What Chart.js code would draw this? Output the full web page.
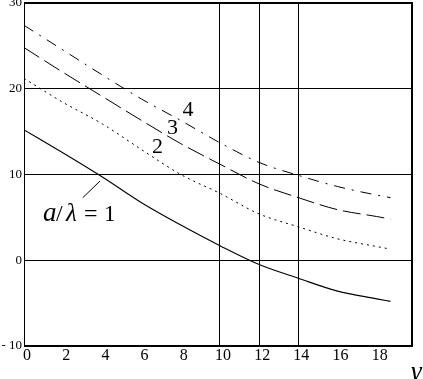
<!DOCTYPE html>
<html><head><meta charset="utf-8">
<script src="https://cdn.jsdelivr.net/npm/chart.js@4/dist/chart.umd.min.js"></script>
<style>
html,body{margin:0;padding:0;background:#fff;overflow:hidden;width:423px;height:379px}
#wrap{position:absolute;left:0;top:0;width:423px;height:379px}
.pre{position:absolute;left:0;top:0;font-family:'Liberation Serif';color:#fff;z-index:-1}
</style></head>
<body><span class="pre">0123 <i>aλγ</i></span><div id="wrap"><canvas id="c"></canvas></div>
<script>
// gamma values (x) and the four curves a/lambda = 1..4
const gamma = [0, 2, 4, 6, 8, 10, 12, 14, 16, 18, 18.7];
const ratio1 = [15.2, 12.5, 9.7, 6.7, 4.1, 1.7, -0.5, -2.1, -3.6, -4.5, -4.8];
const ratio2 = [21.2, 18.4, 15.9, 12.9, 10.0, 7.8, 5.4, 3.9, 2.5, 1.6, 1.3];
const ratio3 = [24.8, 21.9, 19.1, 16.3, 13.6, 11.2, 8.9, 7.3, 5.9, 5.1, 4.8];
const ratio4 = [27.4, 24.5, 21.6, 18.8, 16.3, 13.7, 11.4, 9.9, 8.6, 7.6, 7.3];
const xTicks = [0, 2, 4, 6, 8, 10, 12, 14, 16, 18];
const yTicks = [-10, 0, 10, 20, 30];
const xGridLines = [10, 12, 14];
const curveLabels = ['4', '3', '2'];

const serif = "'Liberation Serif', serif";
const pts = ys => gamma.map((g, i) => ({x: g, y: ys[i]}));

// annotation placement (data units)
const annot = {
  curveLabelPos: [[8.37, 16.78], [7.58, 14.69], [6.81, 12.47]],
  mainLabelPos: [0.97, 4.58],
  leader: [[3.0, 7.3], [3.88, 9.24]]
};

const decor = {
  id: 'decor',
  afterDraw(chart) {
    const {ctx, chartArea: a, scales: {x, y}} = chart;
    ctx.save();
    ctx.fillStyle = '#000';
    ctx.strokeStyle = '#000';
    ctx.fillRect(a.left, a.top - 1, a.right - a.left + 1, 2);
    ctx.fillRect(a.left, a.bottom - 1, a.right - a.left + 1, 2);
    ctx.fillRect(a.right - 1, a.top - 1, 2, a.bottom - a.top + 1);
    ctx.fillRect(Math.round(a.left), a.top - 1, 1, a.bottom - a.top + 1);
    ctx.font = '22px ' + serif;
    ctx.textAlign = 'center';
    ctx.textBaseline = 'alphabetic';
    curveLabels.forEach((t, i) => {
      const [gx, gy] = annot.curveLabelPos[i];
      ctx.fillText(t, x.getPixelForValue(gx), y.getPixelForValue(gy));
    });
    ctx.textAlign = 'left';
    const px = x.getPixelForValue(annot.mainLabelPos[0]);
    const py = y.getPixelForValue(annot.mainLabelPos[1]);
    const parts = [['a', 'italic 27px ', 0], ['/', '24px ', 13], ['λ', 'italic 25px ', 23], ['=', '24px ', 41], ['1', '23px ', 61]];
    parts.forEach(([t, f, dx]) => {
      ctx.font = f + serif;
      ctx.fillText(t, px + dx, py);
    });
    ctx.lineWidth = 1;
    ctx.beginPath();
    ctx.moveTo(x.getPixelForValue(annot.leader[0][0]), y.getPixelForValue(annot.leader[0][1]));
    ctx.lineTo(x.getPixelForValue(annot.leader[1][0]), y.getPixelForValue(annot.leader[1][1]));
    ctx.stroke();
    ctx.font = 'italic 27px ' + serif;
    ctx.textAlign = 'left';
    ctx.fillText('γ', a.right - 1, a.bottom + 34);
    ctx.restore();
  }
};

const ds = (label, ys, dash, w) => ({
  label, data: pts(ys), borderColor: '#000', borderWidth: w || 1,
  borderDash: dash, pointRadius: 0, fill: false,
  cubicInterpolationMode: 'monotone'
});

const chart = new Chart(document.getElementById('c'), {
  type: 'line',
  data: {
    datasets: [
      ds('a/λ = 1', ratio1, [], 1.1),
      ds('a/λ = 2', ratio2, [2, 4]),
      ds('a/λ = 3', ratio3, [18, 6]),
      ds('a/λ = 4', ratio4, [11, 7, 2, 7])
    ]
  },
  options: {
    responsive: true, maintainAspectRatio: false, animation: false,
    layout: {padding: {left: 0, right: 11, top: 3, bottom: 0}},
    plugins: {legend: {display: false}, tooltip: {enabled: false}},
    scales: {
      x: {
        type: 'linear', min: 0, max: 19.8,
        afterBuildTicks: s => { s.ticks = xTicks.map(v => ({value: v})); },
        afterFit: s => { s.height = 33; s.paddingLeft = 0; s.paddingRight = 0; },
        ticks: {font: {family: serif, size: 16}, color: '#000', padding: 0, labelOffset: 3, maxRotation: 0, autoSkip: false},
        grid: {color: c => (c.tick && xGridLines.includes(c.tick.value)) ? '#000' : 'rgba(0,0,0,0)', lineWidth: 1, drawTicks: false},
        border: {display: false}
      },
      y: {
        min: -10, max: 30,
        afterBuildTicks: s => { s.ticks = yTicks.map(v => ({value: v})); },
        afterFit: s => { s.width = 24; s.paddingTop = 0; s.paddingBottom = 0; },
        ticks: {font: {family: serif, size: 13}, color: '#000', padding: 2,
          callback: v => v < 0 ? '- ' + Math.abs(v) : String(v)},
        grid: {color: '#000', lineWidth: 1, drawTicks: false},
        border: {display: false}
      }
    }
  },
  plugins: [decor]
});
const redraw = () => chart.update('none');
if (document.fonts) document.fonts.ready.then(redraw);
setTimeout(redraw, 100);
setTimeout(redraw, 400);
setTimeout(redraw, 1000);
</script>
</body></html>
